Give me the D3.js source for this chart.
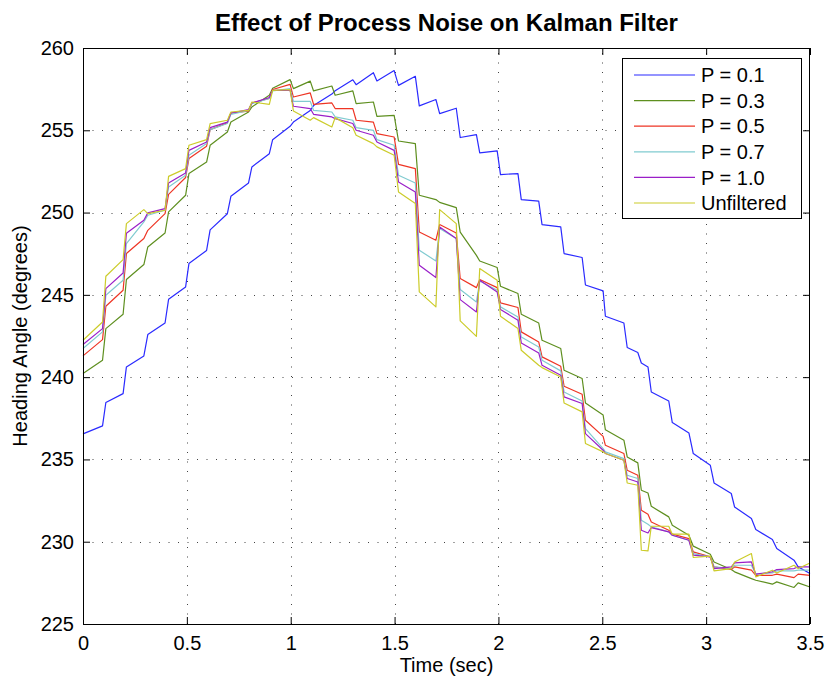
<!DOCTYPE html>
<html><head><meta charset="utf-8">
<script src="https://cdn.jsdelivr.net/npm/d3@7"></script>
<style>body{margin:0;background:#fff}svg{display:block}</style>
</head><body><svg id="c" width="826" height="677"></svg>
<script>
// ---- data ----
const time = [0, 0.094, 0.11, 0.193, 0.209, 0.293, 0.312, 0.395, 0.412, 0.494, 0.51, 0.595, 0.612, 0.695, 0.712, 0.797, 0.813, 0.897, 0.913, 0.997, 1.013, 1.094, 1.11, 1.198, 1.214, 1.299, 1.315, 1.398, 1.415, 1.498, 1.519, 1.6, 1.619, 1.699, 1.717, 1.797, 1.816, 1.894, 1.91, 1.994, 2.01, 2.094, 2.11, 2.194, 2.21, 2.3, 2.316, 2.403, 2.419, 2.504, 2.515, 2.604, 2.62, 2.671, 2.688, 2.72, 2.736, 2.82, 2.837, 2.917, 2.938, 3.02, 3.038, 3.121, 3.137, 3.218, 3.239, 3.319, 3.34, 3.423, 3.443, 3.5];

const p01 = [236.55, 237.04, 238.46, 239.0, 240.62, 241.29, 242.59, 243.29, 244.73, 245.48, 246.9, 247.7, 248.95, 249.93, 250.99, 251.8, 252.77, 253.58, 254.43, 255.24, 255.5, 256.2, 256.5, 257.2, 257.4, 258.07, 257.77, 258.5, 258.0, 258.63, 257.73, 258.28, 256.48, 256.87, 256.01, 256.34, 254.56, 254.74, 253.63, 253.75, 252.31, 252.37, 250.79, 250.7, 249.27, 249.13, 247.51, 247.27, 245.6, 245.24, 243.7, 243.29, 241.8, 241.5, 240.86, 240.62, 239.1, 238.55, 237.24, 236.61, 235.36, 234.65, 233.57, 232.93, 232.11, 231.41, 230.74, 230.13, 229.59, 228.88, 228.47, 228.07];

const p03 = [240.22, 241.03, 242.95, 243.82, 245.93, 246.84, 247.91, 248.76, 250.04, 251.05, 252.37, 253.07, 254.09, 254.9, 255.5, 256.11, 256.42, 257.13, 257.55, 258.08, 257.53, 257.99, 257.39, 257.69, 257.13, 257.39, 256.62, 256.72, 255.85, 255.91, 254.35, 254.19, 251.05, 250.79, 250.62, 250.3, 248.81, 247.4, 247.06, 246.66, 245.52, 245.08, 243.82, 243.29, 242.24, 241.74, 240.42, 239.92, 238.43, 237.7, 236.8, 236.17, 235.15, 234.79, 233.13, 232.96, 232.15, 231.51, 231.0, 230.39, 229.73, 229.24, 228.77, 228.31, 228.17, 227.76, 227.66, 227.42, 227.56, 227.22, 227.5, 227.25];

const p05 = [241.29, 242.28, 244.31, 245.28, 247.51, 248.42, 248.92, 249.94, 251.11, 252.13, 253.28, 254.03, 255.04, 255.45, 256.05, 256.17, 256.66, 256.93, 257.48, 257.79, 257.02, 257.27, 256.58, 256.66, 256.32, 256.32, 255.61, 255.5, 254.8, 254.59, 252.93, 252.67, 248.82, 248.32, 249.27, 248.76, 245.99, 245.44, 245.93, 245.44, 244.51, 244.23, 242.75, 242.14, 241.23, 240.66, 239.45, 238.96, 237.38, 236.4, 235.86, 235.36, 234.34, 234.04, 231.91, 231.67, 231.2, 230.7, 230.46, 230.19, 229.38, 229.08, 228.47, 228.31, 228.47, 228.27, 227.96, 227.96, 228.03, 227.82, 228.03, 227.96];

const p07 = [241.74, 242.75, 244.98, 245.89, 248.12, 249.43, 249.84, 250.14, 251.56, 252.27, 253.48, 254.19, 255.04, 255.41, 255.97, 256.21, 256.62, 256.93, 257.39, 257.53, 256.76, 256.76, 256.21, 256.11, 255.81, 255.61, 255.16, 255.0, 254.43, 254.09, 252.27, 251.8, 247.71, 247.06, 249.03, 248.42, 245.32, 244.57, 245.84, 245.28, 244.27, 243.66, 242.44, 241.83, 241.03, 240.38, 239.1, 238.55, 236.87, 235.66, 235.46, 235.05, 234.04, 233.84, 231.31, 231.06, 230.9, 230.6, 230.39, 230.09, 229.28, 229.08, 228.47, 228.37, 228.57, 228.57, 228.03, 228.1, 228.23, 228.23, 228.27, 228.27];

const p10 = [241.98, 242.95, 245.38, 246.33, 248.75, 249.53, 249.98, 250.24, 251.8, 252.41, 253.78, 254.29, 255.16, 255.5, 256.05, 256.26, 256.66, 256.99, 257.43, 257.43, 256.46, 256.32, 255.97, 255.81, 255.71, 255.41, 255.0, 254.7, 254.29, 253.78, 251.86, 251.25, 246.8, 246.05, 249.13, 248.42, 244.71, 243.96, 245.89, 245.18, 244.11, 243.46, 242.08, 241.47, 240.72, 240.12, 238.8, 238.4, 236.57, 235.56, 235.36, 234.95, 233.84, 233.63, 230.7, 230.53, 230.86, 230.6, 230.39, 230.09, 229.18, 229.08, 228.37, 228.47, 228.71, 228.77, 228.03, 228.17, 228.31, 228.37, 228.47, 228.47];

const unfiltered = [242.24, 243.35, 246.13, 247.14, 249.33, 250.18, 249.94, 250.14, 252.2, 252.67, 254.09, 254.43, 255.41, 255.61, 256.11, 256.21, 256.72, 256.58, 257.43, 257.47, 256.17, 255.61, 255.77, 255.2, 255.77, 255.16, 254.7, 254.19, 253.99, 253.48, 251.25, 250.55, 245.18, 244.27, 250.18, 249.33, 243.42, 242.48, 246.6, 245.89, 243.7, 242.95, 241.63, 240.72, 240.58, 240.01, 238.43, 237.89, 235.97, 235.46, 235.36, 234.95, 233.57, 233.43, 229.48, 229.44, 230.94, 230.94, 230.46, 230.46, 229.04, 229.12, 228.23, 228.37, 228.77, 229.28, 227.86, 228.27, 228.1, 228.57, 228.37, 228.71];

const seriesNames = ["P = 0.1", "P = 0.3", "P = 0.5", "P = 0.7", "P = 1.0", "Unfiltered"];
const seriesColors = ["#2a2aff", "#5e8f1f", "#ee3524", "#80cbd0", "#9a1fc8", "#cccc2a"];
const xTicks = [0, 0.5, 1, 1.5, 2, 2.5, 3, 3.5];
const yTicks = [225, 230, 235, 240, 245, 250, 255, 260];
const titleText = "Effect of Process Noise on Kalman Filter";
const xLabel = "Time (sec)";
const yLabel = "Heading Angle (degrees)";

// ---- drawing ----
const allSeries = [p01, p03, p05, p07, p10, unfiltered];
const FONT = "'Liberation Sans', Arial, Helvetica, sans-serif";
const FS = 20;
const svg = d3.select("#c");
const L = 83, R = 810, T = 48, B = 624;
const x = d3.scaleLinear().domain([0, 3.5]).range([L, R]);
const y = d3.scaleLinear().domain([225, 260]).range([B, T]);

svg.append("rect").attr("width", 826).attr("height", 677).attr("fill", "#fff");

// grid
const grid = svg.append("g").attr("stroke", "#444").attr("stroke-width", 1).attr("stroke-dasharray", "1,8.5");
grid.selectAll("line.v").data(xTicks.slice(1, -1)).join("line")
  .attr("x1", d => Math.round(x(d)) + 0.5).attr("x2", d => Math.round(x(d)) + 0.5)
  .attr("y1", B).attr("y2", T);
grid.selectAll("line.h").data(yTicks.slice(1, -1)).join("line")
  .attr("y1", d => Math.round(y(d)) + 0.5).attr("y2", d => Math.round(y(d)) + 0.5)
  .attr("x1", L).attr("x2", R);

// lines
const line = d3.line().x((d, i) => x(time[i])).y(d => y(d));
svg.append("g").selectAll("path").data(allSeries).join("path")
  .attr("d", d => line(d)).attr("fill", "none")
  .attr("stroke", (d, i) => seriesColors[i]).attr("stroke-width", 1.2)
  .attr("stroke-linejoin", "round");

// axes
const fmt = d => String(d);
const styleAxis = g => {
  g.select(".domain").remove();
  g.selectAll(".tick line").attr("stroke", "#000").attr("stroke-width", 1);
  g.selectAll(".tick text").attr("font-family", FONT).attr("font-size", FS).attr("fill", "#000");
};
svg.append("g").attr("transform", `translate(0,${B})`)
  .call(d3.axisBottom(x).tickValues(xTicks).tickFormat(fmt).tickSize(-7).tickPadding(12)).call(styleAxis);
svg.append("g").attr("transform", `translate(0,${T})`)
  .call(d3.axisTop(x).tickValues(xTicks).tickFormat("").tickSize(-7)).call(styleAxis);
svg.append("g").attr("transform", `translate(${L},0)`)
  .call(d3.axisLeft(y).tickValues(yTicks).tickFormat(fmt).tickSize(-7).tickPadding(9)).call(styleAxis);
svg.append("g").attr("transform", `translate(${R},0)`)
  .call(d3.axisRight(y).tickValues(yTicks).tickFormat("").tickSize(-7)).call(styleAxis);

svg.append("rect").attr("x", L + 0.5).attr("y", T + 0.5).attr("width", R - L - 1).attr("height", B - T)
  .attr("fill", "none").attr("stroke", "#000").attr("stroke-width", 1);

// title & labels
svg.append("text").attr("x", (L + R) / 2).attr("y", 31).attr("text-anchor", "middle")
  .attr("font-family", FONT).attr("font-size", 24).attr("font-weight", "bold").text(titleText);
svg.append("text").attr("x", (L + R) / 2).attr("y", 672).attr("text-anchor", "middle")
  .attr("font-family", FONT).attr("font-size", FS).text(xLabel);
svg.append("text").attr("transform", `translate(27,${(T + B) / 2}) rotate(-90)`).attr("text-anchor", "middle")
  .attr("font-family", FONT).attr("font-size", FS).text(yLabel);

// legend
const lg = svg.append("g");
lg.append("rect").attr("x", 622.5).attr("y", 58.5).attr("width", 179).attr("height", 160)
  .attr("fill", "#fff").attr("stroke", "#000").attr("stroke-width", 1);
seriesNames.forEach((name, i) => {
  const yy = 75 + i * 25.6;
  lg.append("line").attr("x1", 634).attr("x2", 695).attr("y1", yy).attr("y2", yy)
    .attr("stroke", seriesColors[i]).attr("stroke-width", 1.2);
  lg.append("text").attr("x", 701).attr("y", yy).attr("dy", "0.36em")
    .attr("font-family", FONT).attr("font-size", FS).text(name);
});
</script>
</body></html>
